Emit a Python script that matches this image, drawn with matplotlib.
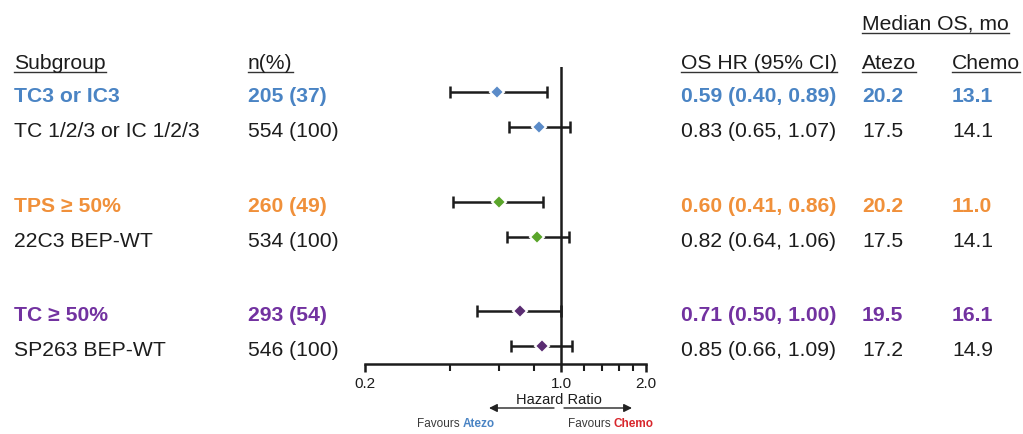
import matplotlib
matplotlib.use("Agg")
import matplotlib.pyplot as plt
import numpy as np
from matplotlib.ticker import FixedLocator, NullFormatter, FixedFormatter

plt.rcParams['font.family'] = ['Liberation Sans', 'DejaVu Sans']

# ---------------- data ----------------
subgroups = ["TC3 or IC3", "TC 1/2/3 or IC 1/2/3", "TPS \u2265 50%", "22C3 BEP-WT",
             "TC \u2265 50%", "SP263 BEP-WT"]
n_pct = ["205 (37)", "554 (100)", "260 (49)", "534 (100)", "293 (54)", "546 (100)"]
hr = [0.59, 0.83, 0.60, 0.82, 0.71, 0.85]
ci_lo = [0.40, 0.65, 0.41, 0.64, 0.50, 0.66]
ci_hi = [0.89, 1.07, 0.86, 1.06, 1.00, 1.09]
atezo_os = [20.2, 17.5, 20.2, 17.5, 19.5, 17.2]
chemo_os = [13.1, 14.1, 11.0, 14.1, 16.1, 14.9]
highlight = [True, False, True, False, True, False]
major_ticks = [0.2, 1.0, 2.0]
major_labels = ["0.2", "1.0", "2.0"]
minor_ticks = [0.4, 0.6, 0.8, 1.2, 1.4, 1.6, 1.8]

# ---------------- style ----------------
BLACK = "#1c1c1c"
text_colors = ["#4a84c4", BLACK, "#f0903a", BLACK, "#7232a0", BLACK]
marker_colors = ["#5b8bc8", "#5b8bc8", "#5aa52a", "#5aa52a", "#5a2c72", "#5a2c72"]
row_base = [102, 137, 212, 247, 321, 356]   # text baselines (pixels from top)
FS = 15.2

W, H = 1023, 435
fig = plt.figure(figsize=(W / 100, H / 100), dpi=100)
bg = fig.add_axes([0, 0, 1, 1])
bg.set_xlim(0, W)
bg.set_ylim(H, 0)
bg.axis("off")

col_sub, col_n, col_hr, col_a, col_c = 14, 248, 681, 862, 952

underline_texts = []
def txt(x, y, s, color=BLACK, bold=False, size=FS, ha="left", underline=False):
    t = bg.text(x, y, s, color=color, fontsize=size, ha=ha, va="baseline",
                fontweight="bold" if bold else "normal")
    if underline:
        underline_texts.append(t)
    return t

# headers
txt(col_a, 30, "Median OS, mo", underline=True)
txt(col_sub, 69, "Subgroup", underline=True)
txt(col_n, 69, "n(%)", underline=True)
txt(col_hr, 69, "OS HR (95% CI)", underline=True)
txt(col_a, 69, "Atezo", underline=True)
txt(col_c, 69, "Chemo", underline=True)

for i in range(len(subgroups)):
    c = text_colors[i]
    b = highlight[i]
    y = row_base[i]
    txt(col_sub, y, subgroups[i], c, b)
    txt(col_n, y, n_pct[i], c, b)
    txt(col_hr, y, f"{hr[i]:.2f} ({ci_lo[i]:.2f}, {ci_hi[i]:.2f})", c, b)
    txt(col_a, y, f"{atezo_os[i]:.1f}", c, b)
    txt(col_c, y, f"{chemo_os[i]:.1f}", c, b)

# ---------------- forest axes ----------------
x0, x1 = 365, 646
ytop, ybot = 68, 365
ax = fig.add_axes([x0 / W, (H - ybot) / H, (x1 - x0) / W, (ybot - ytop) / H])
ax.set_xscale("log")
ax.set_xlim(0.2, 2.0)
ax.set_ylim(ybot, ytop)
ax.patch.set_alpha(0)
for s in ["top", "right", "left"]:
    ax.spines[s].set_visible(False)
ax.spines["bottom"].set_linewidth(1.8)
ax.spines["bottom"].set_color(BLACK)
ax.set_yticks([])
ax.xaxis.set_major_locator(FixedLocator(major_ticks))
ax.xaxis.set_major_formatter(FixedFormatter(major_labels))
ax.xaxis.set_minor_locator(FixedLocator(minor_ticks))
ax.xaxis.set_minor_formatter(NullFormatter())
ax.tick_params(axis="x", which="major", length=6, width=1.8, color=BLACK,
               labelsize=11, labelcolor=BLACK, pad=3)
ax.tick_params(axis="x", which="minor", length=5, width=1.5, color=BLACK)

ax.axvline(1.0, color=BLACK, lw=1.8, zorder=1)
for i in range(len(hr)):
    ym = row_base[i] - 9.5
    ax.errorbar(hr[i], ym, xerr=[[hr[i] - ci_lo[i]], [ci_hi[i] - hr[i]]],
                fmt="none", ecolor=BLACK, elinewidth=1.8, capsize=4.5, capthick=1.8,
                zorder=2)
    ax.plot(hr[i], ym, marker="D", markersize=7, color=marker_colors[i],
            markeredgecolor="white", markeredgewidth=1.5, zorder=3, linestyle="none")
for lbl in ax.get_xticklabels():
    lbl.set_fontfamily(['Liberation Sans', 'DejaVu Sans'])

# ---------------- Hazard ratio label & arrows ----------------
bg.text(559, 404, "Hazard Ratio", fontsize=10.5, color=BLACK, ha="center", va="baseline")
bg.annotate("", xy=(489, 409), xytext=(554, 409),
            arrowprops=dict(arrowstyle="-|>", color="#222222", lw=1.0,
                            mutation_scale=12, shrinkA=0, shrinkB=0))
bg.annotate("", xy=(632, 409), xytext=(564, 409),
            arrowprops=dict(arrowstyle="-|>", color="#222222", lw=1.0,
                            mutation_scale=12, shrinkA=0, shrinkB=0))

fig.canvas.draw()
r = fig.canvas.get_renderer()
inv = bg.transData.inverted()

def pair(x, y, s1, s2, c2, size=8.5):
    t1 = bg.text(x, y, s1, fontsize=size, color="#3a3a3a", ha="left", va="baseline")
    fig.canvas.draw()
    bb = t1.get_window_extent(r)
    xe = inv.transform((bb.x1, bb.y0))[0]
    bg.text(xe, y, s2, fontsize=size, color=c2, ha="left", va="baseline",
            fontweight="bold")

pair(417, 427, "Favours ", "Atezo", "#4a84c4")
pair(568, 427, "Favours ", "Chemo", "#d8262c")

# underlines
fig.canvas.draw()
for t in underline_texts:
    bb = t.get_window_extent(r)
    (xa, _), (xb, _) = inv.transform((bb.x0, bb.y0)), inv.transform((bb.x1, bb.y0))
    yb = t.get_position()[1] + 3.5
    bg.plot([xa, xb], [yb, yb], color="#333333", lw=1.0)

fig.savefig("out.png", dpi=100)
